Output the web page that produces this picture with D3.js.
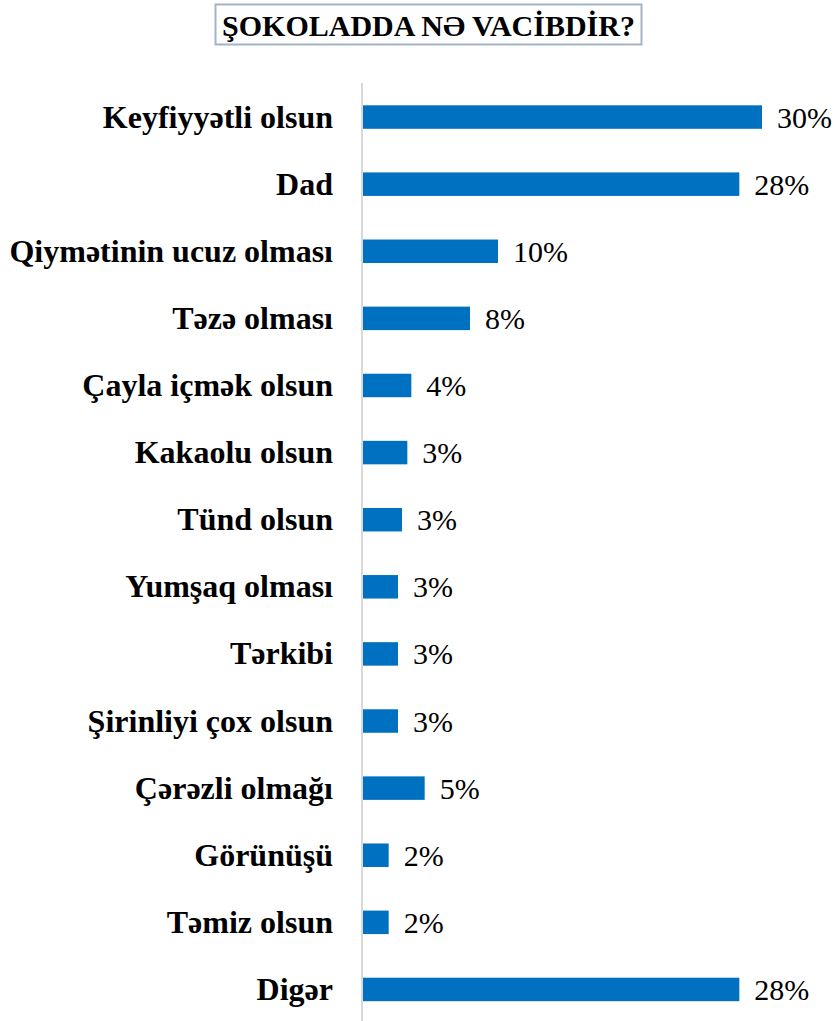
<!DOCTYPE html>
<html>
<head>
<meta charset="utf-8">
<script src="https://cdn.jsdelivr.net/npm/d3@7"></script>
<style>
  html, body { margin: 0; padding: 0; background: #fff; }
  svg { display: block; }
  svg text { font-family: "Liberation Serif", Tinos, "Times New Roman", Times, "DejaVu Serif", serif; }
</style>
</head>
<body>
<svg id="chart" width="836" height="1021"></svg>
<script>
const title = "ŞOKOLADDA NƏ VACİBDİR?";
const categories = [
  "Keyfiyyətli olsun", "Dad", "Qiymətinin ucuz olması", "Təzə olması",
  "Çayla içmək olsun", "Kakaolu olsun", "Tünd olsun", "Yumşaq olması",
  "Tərkibi", "Şirinliyi çox olsun", "Çərəzli olmağı", "Görünüşü",
  "Təmiz olsun", "Digər"
];
const values = [30.0, 28.3, 10.2, 8.1, 3.7, 3.4, 3.0, 2.7, 2.7, 2.7, 4.7, 2.0, 2.0, 28.3];
const valueLabels = ["30%", "28%", "10%", "8%", "4%", "3%", "3%", "3%", "3%", "3%", "5%", "2%", "2%", "28%"];

const svg = d3.select("#chart");
const x0 = 362;
const x = d3.scaleLinear().domain([0, 30]).range([x0, 762]);
const y = d3.scaleBand().domain(categories).range([83.5, 1023]).paddingInner(0.65).paddingOuter(0.325);

// Title box
const tg = svg.append("g");
tg.append("rect")
  .attr("x", 215.5).attr("y", 4.5).attr("width", 426).attr("height", 40)
  .attr("fill", "#fff").attr("stroke", "#a3b3c7").attr("stroke-width", 2);
tg.append("text")
  .attr("x", 428.5).attr("y", 36)
  .attr("text-anchor", "middle")
  .attr("font-weight", "bold").attr("font-size", 30)
  .attr("fill", "#000")
  .text(title);

// Bars
svg.append("g").selectAll("rect")
  .data(categories)
  .join("rect")
  .attr("x", x(0))
  .attr("y", d => y(d))
  .attr("width", (d, i) => x(values[i]) - x(0))
  .attr("height", y.bandwidth())
  .attr("fill", "#0070c0");

// Axis line
svg.append("line")
  .attr("x1", x0).attr("x2", x0)
  .attr("y1", 83).attr("y2", 1021)
  .attr("stroke", "#d9d9d9").attr("stroke-width", 2);

// Category labels
svg.append("g").selectAll("text")
  .data(categories)
  .join("text")
  .attr("x", 333)
  .attr("y", d => y(d) + y.bandwidth() / 2 + 10.5)
  .attr("text-anchor", "end")
  .attr("font-weight", "bold").attr("font-size", 32)
  .attr("fill", "#000")
  .text(d => d);

// Value labels
svg.append("g").selectAll("text")
  .data(categories)
  .join("text")
  .attr("x", (d, i) => x(values[i]) + 15)
  .attr("y", d => y(d) + y.bandwidth() / 2 + 10.5)
  .attr("font-size", 30)
  .attr("fill", "#000")
  .text((d, i) => valueLabels[i]);
</script>
</body>
</html>
